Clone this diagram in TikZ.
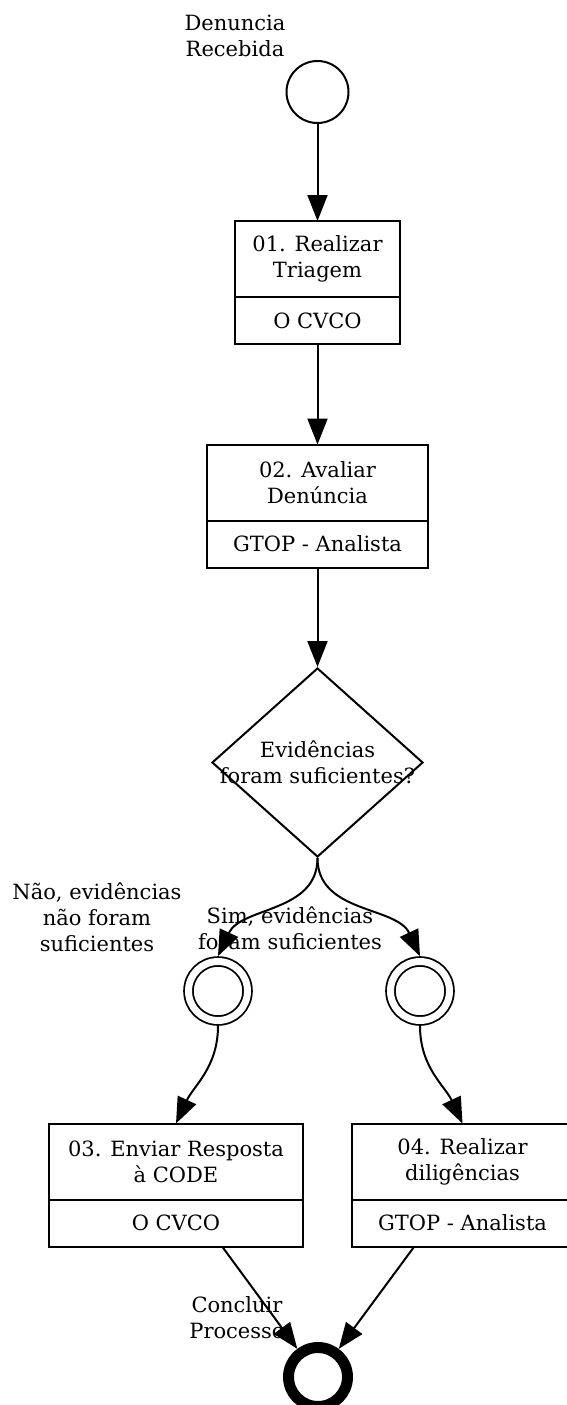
\documentclass[tikz,border=0pt]{standalone}
\usepackage{fontspec}
\setmainfont{DejaVu Serif}
\usetikzlibrary{arrows.meta,positioning,shapes.geometric}
\tikzset{
  flow/.style={line width=2pt,-{Triangle[length=26pt,width=20pt]}},
  txt/.style={font=\fontsize{21}{26}\selectfont,align=center,inner sep=0pt},
  task/.style={txt,draw,line width=2pt,outer sep=0pt,minimum height=76pt},
  role/.style={txt,draw,line width=2pt,outer sep=0pt,minimum height=47pt},
  startev/.style={circle,draw,line width=2pt,minimum size=62pt,inner sep=0pt},
  interev/.style={circle,draw,line width=1.8pt,double,double distance=7pt,
    minimum size=59pt,inner sep=0pt,outer sep=5.3pt},
  endev/.style={circle,draw,line width=11pt,minimum size=59pt,inner sep=0pt},
  gate/.style={diamond,draw,line width=2pt,minimum width=211pt,minimum height=189pt,inner sep=0pt},
}
\begin{document}
\begin{tikzpicture}[x=1pt,y=-1pt]
    \useasboundingbox (0,0) rectangle (566,1405);
    % events and tasks
    \node [startev] (start) at (317.5,92) {};
    \node [txt] (startlbl) at (235,36) {Denuncia\\Recebida};
    \node [task,minimum width=165pt] (t1) at (317.5,259) {01. Realizar\\Triagem};
    \node [role,minimum width=165pt,below=0pt of t1] (r1) {O CVCO};
    \node [task,minimum width=221pt] (t2) at (317.5,482.5) {02. Avaliar\\Denúncia};
    \node [role,minimum width=221pt,below=0pt of t2] (r2) {GTOP - Analista};
    \node [gate] (gw) at (317.5,762.5) {};
    \node [txt] (gwlbl) at (gw) {Evidências\\foram suficientes?};
    \node [interev] (c1) at (218,991) {};
    \node [interev] (c2) at (420,991) {};
    \node [txt] (nolbl) at (97,917) {Não, evidências\\não foram\\suficientes};
    \node [txt] (yeslbl) at (290,928) {Sim, evidências\\foram suficientes};
    \node [task,minimum width=254pt] (t3) at (176,1161.5) {03. Enviar Resposta\\à CODE};
    \node [role,minimum width=254pt,below=0pt of t3] (r3) {O CVCO};
    \node [task,minimum width=221pt] (t4) at (462.5,1161.5) {04. Realizar\\diligências};
    \node [role,minimum width=221pt,below=0pt of t4] (r4) {GTOP - Analista};
    \node [endev] (end) at (318,1377) {};
    \node [txt] (endlbl) at (237,1318) {Concluir\\Processo};
    % flows
    \draw [flow] (start) -- (t1);
    \draw [flow] (r1) -- (t2);
    \draw [flow] (r2) -- (gw);
    \draw [flow] (gw.south) to[out=-90,in=65] (c1.north);
    \draw [flow] (gw.south) to[out=-90,in=115] (c2.north);
    \draw [flow] (c1.south) to[out=-90,in=65] (t3.north);
    \draw [flow] (c2.south) to[out=-90,in=115] (t4.north);
    \draw [flow] (r3.-27) -- (end);
    \draw [flow] (r4.-154) -- (end);
\end{tikzpicture}
\end{document}
